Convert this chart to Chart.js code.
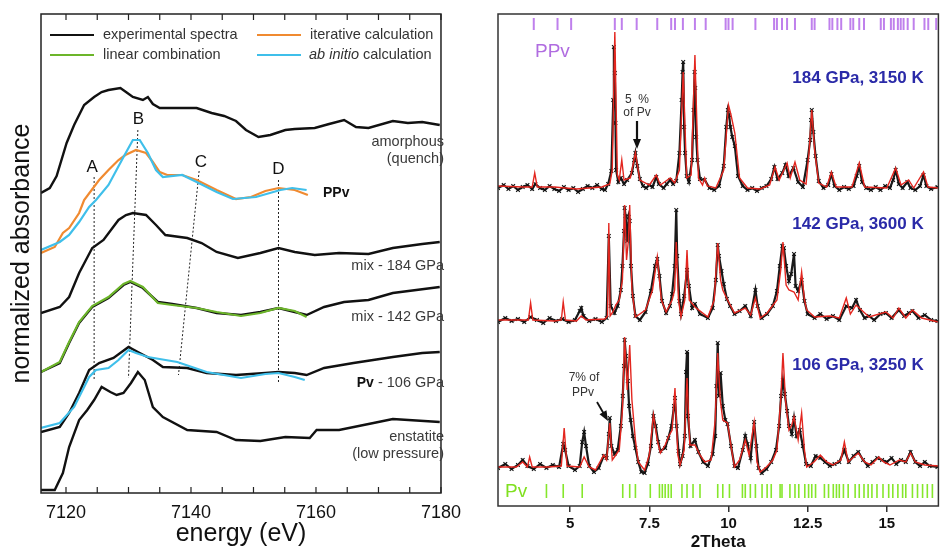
<!DOCTYPE html>
<html>
<head>
<meta charset="utf-8">
<script src="https://cdn.jsdelivr.net/npm/chart.js@4.4.1/dist/chart.umd.min.js"></script>
<style>
  html, body { margin: 0; padding: 0; background: #fff; }
  #wrap { position: relative; width: 947px; height: 549px; background: #fff; }
  #left { position: absolute; left: 0; top: 0; }
  #right { position: absolute; left: 470px; top: 0; }
</style>
</head>
<body>
<div id="wrap">
  <canvas id="left" width="470" height="549"></canvas>
  <canvas id="right" width="477" height="549"></canvas>
</div>
<script>
// ---- left panel: XANES spectra, [energy eV, offset absorbance] ----
const energyTicks = [7120, 7140, 7160, 7180];
const energyTickMarks = [7120, 7125, 7130, 7135, 7140, 7145, 7150, 7155, 7160, 7165, 7170, 7175, 7180];

const amorphous = [[7116.0,300],[7117.4,305],[7118.5,317],[7120.1,350],[7121.3,368],[7122.9,388],[7124.5,396],[7125.7,401],[7126.8,403],[7128.7,405],[7129.6,401],[7130.7,396],[7132.3,393],[7133.1,396],[7133.9,389],[7135.0,385],[7137.8,385],[7140.9,385],[7143.3,380],[7145.3,377],[7147.2,372],[7148.8,363],[7150.8,356],[7152.7,358],[7155.1,363],[7156.6,364],[7159.8,365],[7162.1,369],[7164.5,373],[7166.4,366],[7168.4,365],[7172.3,372],[7174.7,370],[7177.0,371],[7179.8,368]];
const ppvIterative = [[7116.0,240],[7118.2,246],[7119.5,260],[7120.5,265],[7122.1,280],[7122.9,293],[7125.3,313],[7126.8,323],[7128.4,333],[7129.5,338],[7131.2,343],[7132.8,340],[7133.9,331],[7135.0,321],[7136.2,318],[7138.6,318],[7140.9,313],[7144.1,303],[7147.2,294],[7149.6,296],[7151.9,302],[7154.0,305],[7156.6,303],[7158.7,298]];
const ppvAbInitio = [[7116.0,243],[7119.0,251],[7120.5,258],[7122.1,271],[7123.7,286],[7124.8,293],[7126.8,308],[7129.2,336],[7130.7,353],[7131.8,353],[7133.1,340],[7134.4,323],[7135.5,316],[7138.6,318],[7140.9,311],[7144.1,301],[7146.7,294],[7150.4,296],[7154.3,303],[7156.2,305],[7158.5,303]];
const mix184 = [[7116.0,180],[7119.0,186],[7120.5,196],[7122.1,220],[7124.2,245],[7126.0,253],[7128.4,273],[7129.6,278],[7130.7,280],[7132.8,278],[7134.4,268],[7135.9,258],[7139.4,255],[7141.7,250],[7144.1,241],[7147.5,235],[7151.1,240],[7154.0,245],[7156.6,241],[7159.8,238],[7163.7,240],[7168.4,239],[7172.3,245],[7177.0,249],[7179.8,251]];
const mix142 = [[7116.0,121],[7119.0,130],[7120.5,150],[7122.1,170],[7124.2,186],[7126.8,195],[7129.2,208],[7130.3,211],[7132.3,205],[7134.7,191],[7137.0,189],[7140.9,185],[7144.1,180],[7148.0,178],[7151.1,181],[7154.0,185],[7156.6,181],[7158.5,178],[7161.3,186],[7164.5,191],[7168.4,193],[7172.3,200],[7179.8,206]];
const linComb = [[7116.0,121],[7119.0,131],[7120.5,151],[7122.1,171],[7124.2,187],[7126.8,196],[7129.2,209],[7130.3,212],[7132.3,206],[7134.7,190],[7137.0,188],[7140.9,185],[7144.1,181],[7148.0,177],[7151.1,180],[7154.0,185],[7156.6,182],[7158.5,176]];
const pv106 = [[7116.0,61],[7119.0,66],[7120.5,80],[7122.1,100],[7123.7,123],[7125.3,130],[7127.6,135],[7130.0,146],[7131.5,141],[7133.9,133],[7135.5,126],[7139.4,125],[7142.5,120],[7147.2,118],[7151.9,120],[7154.0,121],[7156.6,120],[7158.5,118],[7161.3,125],[7166.0,130],[7172.3,136],[7177.0,140],[7179.8,141]];
const pvAbInitio = [[7116.0,65],[7119.0,70],[7121.3,86],[7122.9,106],[7123.7,116],[7124.8,123],[7126.8,125],[7128.4,133],[7130.0,143],[7131.2,140],[7133.1,136],[7137.8,131],[7142.5,121],[7148.0,115],[7151.9,119],[7154.0,120],[7156.6,116],[7158.2,113]];
const enstatite = [[7116.0,3],[7118.2,3],[7119.5,20],[7120.5,46],[7122.1,73],[7123.4,83],[7124.5,93],[7125.7,106],[7127.1,101],[7128.1,98],[7129.2,100],[7130.4,110],[7131.5,121],[7132.6,113],[7133.9,86],[7135.5,76],[7139.4,63],[7144.1,61],[7147.2,53],[7151.1,52],[7155.1,56],[7159.0,55],[7160.1,63],[7163.7,63],[7169.2,70],[7172.3,74],[7179.8,71]];

const guideA = [[7124.5,316],[7124.5,113]];
const guideB = [[7131.5,363],[7130.0,115]];
const guideC = [[7141.3,322],[7138.0,118]];
const guideD = [[7154.0,313],[7154.0,111]];

// ---- right panel: XRD patterns, [2theta, stacked intensity] ----
const thetaTicks = [5, 7.5, 10, 12.5, 15];

const calc184 = [[2.72,320],[3.5,319],[3.8,319],[3.88,333],[3.96,319],[4.5,319],[5.2,317],[6.0,319],[6.25,322],[6.33,336],[6.41,474],[6.49,331],[6.55,326],[6.63,346],[6.7,326],[6.9,328],[7.06,353],[7.2,326],[7.5,321],[7.72,331],[7.85,321],[8.16,328],[8.3,323],[8.45,336],[8.57,434],[8.68,328],[8.82,331],[8.94,451],[9.05,328],[9.18,321],[9.25,328],[9.33,320],[9.6,318],[9.85,336],[10.0,401],[10.08,391],[10.2,373],[10.35,328],[10.6,318],[11.0,317],[11.3,321],[11.47,339],[11.6,326],[11.75,336],[11.85,343],[11.95,328],[12.1,344],[12.25,326],[12.45,322],[12.55,356],[12.63,396],[12.72,356],[12.85,323],[13.1,319],[13.25,334],[13.4,319],[13.9,319],[14.13,343],[14.3,319],[15.0,318],[15.28,338],[15.45,321],[15.69,326],[15.85,318],[16.16,334],[16.3,319],[16.63,318]];
const obs184 = [[2.72,318],[2.9,321],[3.05,317],[3.2,320],[3.35,316],[3.5,319],[3.65,321],[3.8,317],[3.9,322],[4.05,318],[4.2,316],[4.35,320],[4.5,317],[4.65,315],[4.8,319],[4.95,316],[5.1,318],[5.25,314],[5.4,317],[5.55,320],[5.7,318],[5.85,321],[6.0,317],[6.1,316],[6.2,322],[6.3,335],[6.36,406],[6.38,459],[6.41,433],[6.43,383],[6.45,336],[6.52,324],[6.6,328],[6.7,322],[6.8,326],[6.95,333],[7.02,346],[7.06,353],[7.12,340],[7.2,327],[7.3,320],[7.4,318],[7.5,321],[7.6,319],[7.72,329],[7.8,322],[7.95,318],[8.05,322],[8.16,326],[8.25,322],[8.35,325],[8.45,353],[8.52,406],[8.55,434],[8.57,444],[8.6,379],[8.63,353],[8.68,330],[8.75,324],[8.85,346],[8.9,396],[8.93,434],[8.95,418],[8.98,369],[9.02,346],[9.1,327],[9.25,326],[9.4,318],[9.55,316],[9.7,320],[9.85,340],[9.93,379],[9.98,396],[10.02,391],[10.06,379],[10.12,369],[10.2,360],[10.3,330],[10.45,320],[10.6,316],[10.75,318],[10.9,315],[11.05,318],[11.2,320],[11.35,327],[11.45,339],[11.55,327],[11.7,333],[11.8,341],[11.9,330],[12.05,338],[12.2,324],[12.35,319],[12.5,346],[12.58,366],[12.61,386],[12.63,396],[12.68,374],[12.75,350],[12.85,325],[13.0,318],[13.15,321],[13.25,332],[13.35,320],[13.5,316],[13.65,319],[13.8,317],[13.95,320],[14.05,330],[14.13,340],[14.22,324],[14.35,318],[14.5,316],[14.65,319],[14.8,316],[14.95,320],[15.1,318],[15.2,326],[15.28,336],[15.38,322],[15.5,318],[15.65,324],[15.75,318],[15.9,316],[16.05,320],[16.16,331],[16.25,320],[16.4,317],[16.6,319]];

const calc142 = [[2.72,186],[3.5,186],[3.68,186],[3.75,203],[3.82,186],[4.5,185],[4.72,186],[4.78,204],[4.85,186],[5.2,185],[5.35,190],[5.5,186],[6.1,187],[6.18,190],[6.22,283],[6.26,190],[6.35,194],[6.44,201],[6.55,206],[6.65,226],[6.72,301],[6.78,246],[6.84,266],[6.88,301],[6.95,216],[7.06,189],[7.38,196],[7.6,216],[7.75,249],[7.88,206],[8.03,194],[8.22,206],[8.3,216],[8.35,264],[8.42,206],[8.5,189],[8.62,206],[8.69,256],[8.76,206],[8.94,199],[9.35,189],[9.55,206],[9.66,263],[9.75,226],[9.82,216],[9.97,206],[10.19,193],[10.53,198],[10.7,191],[10.85,208],[11.0,188],[11.22,193],[11.53,206],[11.65,236],[11.72,264],[11.82,221],[11.91,216],[12.07,214],[12.2,206],[12.31,234],[12.4,206],[12.47,196],[12.72,189],[13.2,190],[13.5,188],[13.72,208],[13.85,192],[14.03,201],[14.44,189],[14.97,194],[15.2,188],[15.38,198],[15.6,188],[15.81,196],[16.1,188],[16.63,184]];
const obs142 = [[2.72,184],[2.95,188],[3.15,185],[3.35,187],[3.55,184],[3.75,189],[3.95,186],[4.15,183],[4.35,188],[4.55,185],[4.75,187],[4.95,184],[5.15,186],[5.3,195],[5.35,198],[5.42,190],[5.6,185],[5.8,187],[6.0,184],[6.15,188],[6.22,270],[6.28,200],[6.4,193],[6.5,200],[6.6,216],[6.65,240],[6.7,275],[6.72,298],[6.75,290],[6.8,265],[6.85,289],[6.88,285],[6.92,240],[6.98,210],[7.06,190],[7.2,186],[7.38,194],[7.55,215],[7.68,240],[7.75,247],[7.82,230],[7.9,205],[8.03,193],[8.15,200],[8.22,212],[8.3,240],[8.35,296],[8.38,250],[8.45,205],[8.5,192],[8.6,210],[8.69,236],[8.75,220],[8.85,198],[8.94,202],[9.1,192],[9.35,188],[9.5,198],[9.6,226],[9.66,261],[9.7,250],[9.78,235],[9.85,222],[9.95,207],[10.05,200],[10.19,192],[10.35,195],[10.53,200],[10.7,190],[10.85,216],[10.92,200],[11.05,188],[11.22,192],[11.4,200],[11.53,215],[11.62,240],[11.7,260],[11.75,258],[11.82,240],[11.91,225],[11.98,232],[12.07,252],[12.12,220],[12.2,215],[12.31,226],[12.4,205],[12.5,192],[12.72,188],[12.9,192],[13.1,187],[13.3,190],[13.5,186],[13.72,200],[13.9,198],[14.03,206],[14.15,196],[14.3,188],[14.44,190],[14.6,186],[14.8,192],[14.97,193],[15.15,188],[15.38,196],[15.55,190],[15.7,193],[15.81,195],[16.0,188],[16.2,191],[16.4,186],[16.6,185]];

const calc106 = [[2.72,39],[3.3,39],[3.5,44],[3.65,39],[3.72,49],[3.8,39],[4.3,39],[4.72,40],[4.81,78],[4.9,40],[5.3,39],[5.44,49],[5.6,39],[5.8,36],[6.06,51],[6.15,46],[6.25,83],[6.33,46],[6.44,51],[6.55,56],[6.65,96],[6.72,169],[6.8,116],[6.88,161],[6.95,106],[7.06,66],[7.15,44],[7.35,36],[7.5,51],[7.63,91],[7.75,66],[7.85,53],[8.0,61],[8.1,69],[8.22,76],[8.31,118],[8.4,51],[8.47,41],[8.6,56],[8.69,128],[8.78,61],[8.94,61],[9.1,51],[9.25,44],[9.45,46],[9.58,86],[9.66,153],[9.74,106],[9.82,86],[9.97,83],[10.1,56],[10.19,39],[10.35,46],[10.53,66],[10.65,51],[10.81,84],[10.9,44],[11.0,34],[11.2,39],[11.4,46],[11.53,56],[11.65,106],[11.72,153],[11.8,106],[11.91,76],[12.0,81],[12.07,89],[12.2,66],[12.31,93],[12.4,56],[12.47,39],[12.7,44],[12.9,51],[13.1,44],[13.3,41],[13.55,46],[13.66,64],[13.78,44],[14.1,53],[14.3,44],[14.5,41],[14.75,49],[14.9,44],[15.1,41],[15.4,46],[15.6,44],[15.75,53],[15.9,44],[16.2,41],[16.63,40]];
const obs106 = [[2.72,38],[2.95,42],[3.15,37],[3.35,41],[3.5,46],[3.65,40],[3.85,37],[4.05,42],[4.25,38],[4.45,41],[4.65,39],[4.78,62],[4.84,56],[4.95,40],[5.15,36],[5.3,40],[5.38,64],[5.44,74],[5.5,60],[5.6,40],[5.75,34],[5.9,38],[6.06,50],[6.15,48],[6.22,72],[6.25,88],[6.3,60],[6.4,52],[6.5,56],[6.6,80],[6.66,110],[6.7,140],[6.72,166],[6.76,150],[6.82,125],[6.86,100],[6.91,86],[6.98,70],[7.06,58],[7.15,44],[7.25,34],[7.35,33],[7.45,42],[7.55,60],[7.63,90],[7.7,80],[7.78,64],[7.85,55],[8.0,58],[8.1,68],[8.2,80],[8.28,100],[8.31,108],[8.36,80],[8.42,55],[8.47,42],[8.55,50],[8.62,70],[8.66,134],[8.69,154],[8.72,90],[8.8,60],[8.94,66],[9.05,54],[9.2,44],[9.35,40],[9.5,52],[9.58,70],[9.62,120],[9.66,163],[9.7,110],[9.75,133],[9.82,100],[9.9,86],[9.97,82],[10.08,60],[10.19,40],[10.3,38],[10.45,56],[10.53,70],[10.6,62],[10.7,48],[10.81,84],[10.88,60],[10.95,38],[11.05,33],[11.2,37],[11.35,44],[11.5,56],[11.6,80],[11.66,110],[11.72,126],[11.78,112],[11.85,95],[11.91,80],[12.0,72],[12.07,88],[12.15,70],[12.25,76],[12.35,60],[12.45,42],[12.6,40],[12.75,50],[12.9,48],[13.05,44],[13.2,40],[13.35,42],[13.5,44],[13.66,56],[13.8,44],[13.95,50],[14.1,54],[14.25,46],[14.4,40],[14.55,44],[14.7,48],[14.85,46],[15.0,44],[15.15,48],[15.3,42],[15.45,46],[15.6,44],[15.75,54],[15.9,44],[16.05,40],[16.2,44],[16.35,40],[16.6,39]];

// reflection positions (2theta)
const ppvReflections = [3.85,4.60,5.03,6.41,6.63,7.10,7.75,8.19,8.31,8.56,8.94,9.28,9.91,10.0,10.13,10.85,11.44,11.53,11.69,11.85,12.1,12.63,12.72,13.19,13.28,13.44,13.56,13.85,13.94,14.13,14.28,14.81,14.91,15.13,15.22,15.35,15.44,15.53,15.66,15.85,16.19,16.31,16.56];
const pvReflections = [4.25,4.78,5.38,6.66,6.88,7.06,7.53,7.82,7.91,8.00,8.10,8.19,8.53,8.69,8.88,9.10,9.66,9.82,10.03,10.44,10.53,10.69,10.85,11.06,11.22,11.35,11.63,11.69,11.94,12.10,12.22,12.41,12.53,12.63,12.75,13.03,13.16,13.31,13.41,13.50,13.63,13.78,14.00,14.13,14.28,14.41,14.53,14.69,14.88,15.06,15.19,15.35,15.50,15.60,15.81,15.97,16.13,16.28,16.44];

const FONT = "'Liberation Sans', Arial, Helvetica, sans-serif";
Chart.defaults.font.family = FONT;

const toXY = pts => pts.map(([x, y]) => ({ x, y }));

function curve(pts, color, width, order, dash) {
  return {
    data: toXY(pts), showLine: true, borderColor: color, borderWidth: width,
    pointRadius: 0, tension: 0, order: order, borderDash: dash || []
  };
}

function arrow(ctx, x1, y1, x2, y2, w) {
  const a = Math.atan2(y2 - y1, x2 - x1);
  ctx.lineWidth = w;
  ctx.beginPath();
  ctx.moveTo(x1, y1);
  ctx.lineTo(x2 - 6 * Math.cos(a), y2 - 6 * Math.sin(a));
  ctx.stroke();
  ctx.beginPath();
  ctx.moveTo(x2, y2);
  ctx.lineTo(x2 - 10 * Math.cos(a) + 4 * Math.sin(a), y2 - 10 * Math.sin(a) - 4 * Math.cos(a));
  ctx.lineTo(x2 - 10 * Math.cos(a) - 4 * Math.sin(a), y2 - 10 * Math.sin(a) + 4 * Math.cos(a));
  ctx.closePath();
  ctx.fill();
}

// frame, inward ticks, legend and curve labels for the left panel
const leftDecor = {
  id: 'leftDecor',
  afterDraw(chart) {
    const { ctx, chartArea: a, scales: { x, y } } = chart;
    ctx.save();
    ctx.strokeStyle = '#222';
    ctx.lineWidth = 1.5;
    ctx.strokeRect(a.left, a.top, a.right - a.left, a.bottom - a.top);
    ctx.lineWidth = 1.2;
    energyTickMarks.forEach(v => {
      const px = x.getPixelForValue(v);
      ctx.beginPath();
      ctx.moveTo(px, a.bottom); ctx.lineTo(px, a.bottom - 6);
      ctx.moveTo(px, a.top); ctx.lineTo(px, a.top + 6);
      ctx.stroke();
    });

    // legend
    const legendRows = [
      [50, 35, '#111', 'experimental spectra'],
      [257, 35, '#f08a30', 'iterative calculation'],
      [50, 55, '#6cb52a', 'linear combination'],
      [257, 55, '#3fbfea', null]
    ];
    ctx.textBaseline = 'middle';
    ctx.textAlign = 'left';
    legendRows.forEach(([lx, ly, col, txt]) => {
      ctx.strokeStyle = col; ctx.lineWidth = 2.2;
      ctx.beginPath(); ctx.moveTo(lx, ly); ctx.lineTo(lx + 44, ly); ctx.stroke();
      ctx.fillStyle = '#333';
      if (txt) {
        ctx.font = '14.5px ' + FONT;
        ctx.fillText(txt, lx + 53, ly);
      } else {
        ctx.font = 'italic 14.5px ' + FONT;
        ctx.fillText('ab initio', lx + 52, ly);
        const w = ctx.measureText('ab initio').width;
        ctx.font = '14.5px ' + FONT;
        ctx.fillText(' calculation', lx + 52 + w, ly);
      }
    });

    // feature letters
    ctx.fillStyle = '#111';
    ctx.font = '17px ' + FONT;
    ctx.textAlign = 'center';
    [['A', 7124.2, 326], ['B', 7131.6, 374], ['C', 7141.6, 331], ['D', 7154.0, 324]].forEach(([t, ex, ey]) => {
      ctx.fillText(t, x.getPixelForValue(ex), y.getPixelForValue(ey));
    });

    // curve labels
    ctx.fillStyle = '#3a3a3a';
    ctx.font = '14.5px ' + FONT;
    ctx.textAlign = 'right';
    const rx = 444;
    ctx.fillText('amorphous', rx, 142);
    ctx.fillText('(quench)', rx, 159);
    ctx.fillText('mix - 184 GPa', rx, 266);
    ctx.fillText('mix - 142 GPa', rx, 317);
    const rest = ' - 106 GPa';
    ctx.fillText(rest, rx, 383);
    const rw = ctx.measureText(rest).width;
    ctx.fillText('enstatite', rx, 437);
    ctx.fillText('(low pressure)', rx, 454);
    ctx.fillStyle = '#111';
    ctx.font = 'bold 14px ' + FONT;
    ctx.fillText('Pv', rx - rw, 383);
    ctx.textAlign = 'left';
    ctx.fillText('PPv', 323, 193);
    ctx.restore();
  }
};

new Chart(document.getElementById('left'), {
  type: 'scatter',
  data: {
    datasets: [
      curve(ppvIterative, '#f08a30', 2.2, 1),
      curve(ppvAbInitio, '#3fbfea', 2.2, 0),
      curve(linComb, '#6cb52a', 2.2, 1),
      curve(pvAbInitio, '#3fbfea', 2.2, 1),
      curve(amorphous, '#111', 2.4, 2),
      curve(mix184, '#111', 2.4, 2),
      curve(mix142, '#111', 2.4, 2),
      curve(pv106, '#111', 2.4, 2),
      curve(enstatite, '#111', 2.4, 2),
      curve(guideA, '#222', 1, 3, [2, 2]),
      curve(guideB, '#222', 1, 3, [2, 2]),
      curve(guideC, '#222', 1, 3, [2, 2]),
      curve(guideD, '#222', 1, 3, [2, 2])
    ]
  },
  options: {
    responsive: false,
    animation: false,
    layout: { padding: { top: 14, right: 22, left: 0, bottom: 0 } },
    plugins: { legend: { display: false }, tooltip: { enabled: false } },
    scales: {
      x: {
        type: 'linear', min: 7116, max: 7180,
        afterBuildTicks: ax => { ax.ticks = energyTicks.map(v => ({ value: v })); },
        afterFit: ax => { ax.height = 56; },
        ticks: { font: { size: 18 }, color: '#111', padding: 9, maxRotation: 0, autoSkip: false, callback: v => String(v) },
        grid: { display: false, drawTicks: false },
        border: { display: false },
        title: { display: true, text: 'energy (eV)', font: { size: 25 }, color: '#111', padding: { top: 0, bottom: 0 } }
      },
      y: {
        min: 0, max: 479,
        afterFit: ax => { ax.width = 41; },
        ticks: { display: false },
        grid: { display: false, drawTicks: false },
        border: { display: false },
        title: { display: true, text: 'normalized absorbance', font: { size: 25 }, color: '#111', padding: { top: 7, bottom: 0 } }
      }
    }
  },
  plugins: [leftDecor]
});

// frame and annotations for the right panel
const rightDecor = {
  id: 'rightDecor',
  afterDraw(chart) {
    const { ctx, chartArea: a } = chart;
    ctx.save();
    ctx.strokeStyle = '#333';
    ctx.lineWidth = 1.5;
    ctx.strokeRect(a.left, a.top, a.right - a.left, a.bottom - a.top);

    ctx.textBaseline = 'middle';
    ctx.textAlign = 'left';
    ctx.font = '19px ' + FONT;
    ctx.fillStyle = '#b06ce0';
    ctx.fillText('PPv', 65, 52);
    ctx.fillStyle = '#80e020';
    ctx.fillText('Pv', 35, 492);

    ctx.textAlign = 'center';
    ctx.fillStyle = '#2a2aa8';
    ctx.font = 'bold 17px ' + FONT;
    ctx.fillText('184 GPa, 3150 K', 388, 78);
    ctx.fillText('142 GPa, 3600 K', 388, 224);
    ctx.fillText('106 GPa, 3250 K', 388, 365);

    ctx.fillStyle = '#333';
    ctx.font = '12px ' + FONT;
    ctx.fillText('5  %', 167, 100);
    ctx.fillText('of Pv', 167, 113);
    ctx.fillText('7% of', 114, 378);
    ctx.fillText('PPv', 113, 393);

    ctx.strokeStyle = '#111';
    ctx.fillStyle = '#111';
    arrow(ctx, 167, 121, 167, 149, 2.2);
    arrow(ctx, 127, 402, 138, 421, 1.8);
    ctx.restore();
  }
};

new Chart(document.getElementById('right'), {
  type: 'scatter',
  data: {
    datasets: [
      { data: toXY(calc184), showLine: true, borderColor: '#e3261f', borderWidth: 1.4, pointRadius: 0, order: 1 },
      { data: toXY(calc142), showLine: true, borderColor: '#e3261f', borderWidth: 1.4, pointRadius: 0, order: 1 },
      { data: toXY(calc106), showLine: true, borderColor: '#e3261f', borderWidth: 1.4, pointRadius: 0, order: 1 },
      { data: toXY(obs184), showLine: true, borderColor: '#1a1a1a', borderWidth: 2.2, pointStyle: 'crossRot', pointRadius: 2.6, pointBorderWidth: 1.1, pointBorderColor: '#111', order: 2 },
      { data: toXY(obs142), showLine: true, borderColor: '#1a1a1a', borderWidth: 2.2, pointStyle: 'crossRot', pointRadius: 2.6, pointBorderWidth: 1.1, pointBorderColor: '#111', order: 2 },
      { data: toXY(obs106), showLine: true, borderColor: '#1a1a1a', borderWidth: 2.2, pointStyle: 'crossRot', pointRadius: 2.6, pointBorderWidth: 1.1, pointBorderColor: '#111', order: 2 },
      { data: ppvReflections.map(v => ({ x: v, y: 482 })), pointStyle: 'line', rotation: 90, pointRadius: 6, pointBorderWidth: 2, pointBorderColor: 'rgba(170, 85, 230, 0.75)', order: 3 },
      { data: pvReflections.map(v => ({ x: v, y: 15 })), pointStyle: 'line', rotation: 90, pointRadius: 7, pointBorderWidth: 1.6, pointBorderColor: 'rgba(120, 228, 20, 0.9)', order: 3 }
    ]
  },
  options: {
    responsive: false,
    animation: false,
    layout: { padding: { top: 14, right: 4, left: 28, bottom: 0 } },
    plugins: { legend: { display: false }, tooltip: { enabled: false } },
    scales: {
      x: {
        type: 'linear', min: 2.72, max: 16.63,
        afterBuildTicks: ax => { ax.ticks = thetaTicks.map(v => ({ value: v })); },
        afterFit: ax => { ax.height = 43; },
        ticks: { font: { size: 15, weight: 'bold' }, color: '#111', padding: 3, maxRotation: 0, autoSkip: false, callback: v => String(v) },
        grid: { drawOnChartArea: false, drawTicks: true, tickLength: 6, color: '#333', lineWidth: 1.5 },
        border: { display: false },
        title: { display: true, text: '2Theta', font: { size: 17, weight: 'bold', lineHeight: 0.8 }, color: '#111', padding: { top: 0, bottom: 0 } }
      },
      y: { display: false, min: 0, max: 492 }
    }
  },
  plugins: [rightDecor]
});
</script>
</body>
</html>
